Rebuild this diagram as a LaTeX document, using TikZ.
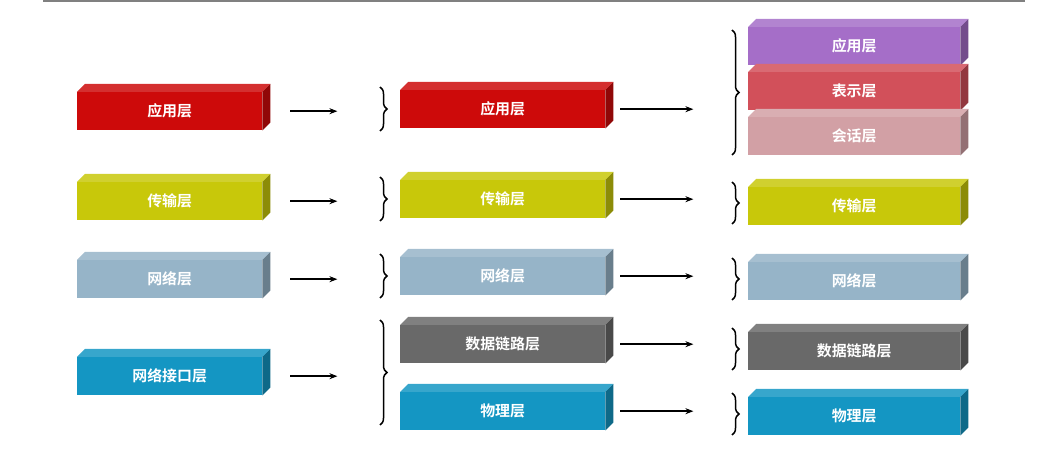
\documentclass[tikz,border=0pt]{standalone}
\usepackage{fontspec}
\newfontfamily\cjk{Noto Sans CJK SC}[BoldFont={Noto Sans CJK SC Bold}]
\usetikzlibrary{positioning, calc, arrows.meta, decorations.pathreplacing}

\tikzset{
  layer/.style={fill=#1, minimum height=38bp, inner sep=0pt, text=white,
    font=\cjk\bfseries\fontsize{15}{15}\selectfont, anchor=north west},
  link/.style={-{Stealth[length=8bp]}, line width=1.6bp},
  curly/.style={decorate, decoration={brace, amplitude=7bp, mirror}, line width=1.5bp}
}
\definecolor{redL}{RGB}{205,10,10}
\definecolor{yelL}{RGB}{200,200,10}
\definecolor{grayL}{RGB}{150,180,200}
\definecolor{tealL}{RGB}{20,150,195}
\definecolor{darkL}{RGB}{105,105,105}
\definecolor{purL}{RGB}{165,110,200}
\definecolor{pinkL}{RGB}{210,80,90}
\definecolor{paleL}{RGB}{210,160,165}

% box with top bevel and side face
\newcommand{\layerbox}[6]{%
  \node[layer=#6, minimum width=#4bp] (#1) at (#2,#3) {#5};
  \fill[#6!85!white] (#1.north west) -- ++(8,-8) -- ($(#1.north east)+(8,-8)$) -- (#1.north east) -- cycle;
  \fill[#6!70!black] (#1.north east) -- ++(8,-8) -- ($(#1.south east)+(8,-8)$) -- (#1.south east) -- cycle;
}

\begin{document}
\begin{tikzpicture}[x=1bp, y=-1bp]
  \useasboundingbox (0,0) rectangle (1044,449);
  \draw[gray, line width=1.5bp] (43,1) -- (1025,1);

  % left column
  \layerbox{aA}{77}{92}{185}{应用层}{redL}
  \layerbox{aB}{77}{182}{185}{传输层}{yelL}
  \layerbox{aC}{77}{260}{185}{网络层}{grayL}
  \layerbox{aD}{77}{357}{185}{网络接口层}{tealL}

  % middle column
  \layerbox{bA}{400}{90}{205}{应用层}{redL}
  \layerbox{bB}{400}{180}{205}{传输层}{yelL}
  \layerbox{bC}{400}{257}{205}{网络层}{grayL}
  \layerbox{bD}{400}{325}{205}{数据链路层}{darkL}
  \layerbox{bE}{400}{392}{205}{物理层}{tealL}

  % right column
  \layerbox{cA}{748}{27}{212}{应用层}{purL}
  \layerbox{cB}{748}{72}{212}{表示层}{pinkL}
  \layerbox{cC}{748}{117}{212}{会话层}{paleL}
  \layerbox{cD}{748}{187}{212}{传输层}{yelL}
  \layerbox{cE}{748}{262}{212}{网络层}{grayL}
  \layerbox{cF}{748}{332}{212}{数据链路层}{darkL}
  \layerbox{cG}{748}{397}{212}{物理层}{tealL}

  % arrows
  \foreach \s in {A,B,C,D}{
    \coordinate (t\s) at ($(a\s.east)+(75,0)$);
    \draw[link] ($(a\s.east)+(28,0)$) -- (t\s);
  }
  \foreach \s in {A,B,C,D,E}{
    \coordinate (u\s) at ($(b\s.east)+(88,0)$);
    \draw[link] ($(b\s.east)+(15,0)$) -- (u\s);
  }

  % braces
  \draw[curly] (380,131) -- (380,87);
  \draw[curly] (380,221) -- (380,177);
  \draw[curly] (380,298) -- (380,254);
  \draw[curly] (380,425) -- (380,320);
  \draw[curly] (732,155) -- (732,30);
  \draw[curly] (732,224) -- (732,182);
  \draw[curly] (732,300) -- (732,258);
  \draw[curly] (732,370) -- (732,328);
  \draw[curly] (732,435) -- (732,393);
\end{tikzpicture}
\end{document}
